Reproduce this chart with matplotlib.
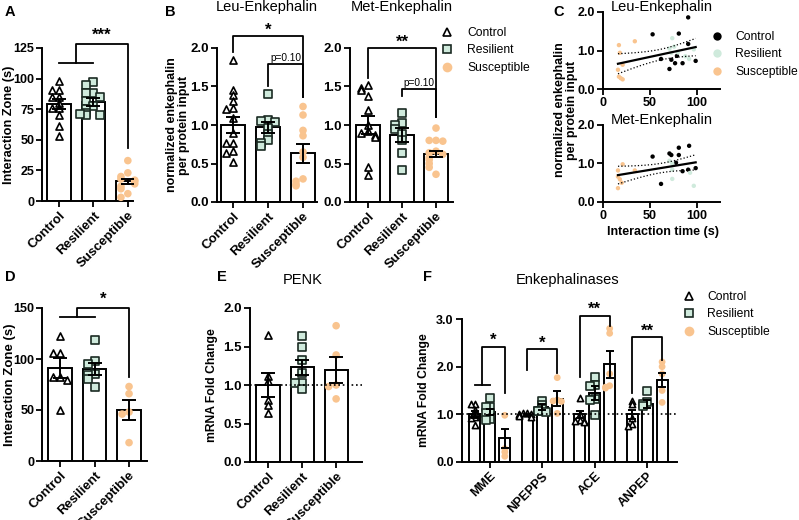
import numpy as np
import matplotlib
matplotlib.use("Agg")
import matplotlib.pyplot as plt
from matplotlib.lines import Line2D

plt.rcParams['font.family'] = ['Liberation Sans', 'DejaVu Sans']
plt.rcParams['font.weight'] = 'bold'
plt.rcParams['axes.labelweight'] = 'bold'

W, H = 799, 520
groups = ['Control', 'Resilient', 'Susceptible']
PEACH = '#f9c48f'
MINT = '#cfeadc'

# --- A: social interaction (s)
a_ctrl = [98, 91, 91, 85, 85, 80, 76, 76, 70, 61, 53]
a_res = [97, 95, 88, 88, 85, 82, 78, 75, 72, 70, 70, 71]
a_sus = [33, 23, 20, 18, 17, 16, 14, 12, 10, 6, 3]
a_mean = [79, 81, 16]
a_sem = [4, 3, 2]

# --- B: Leu / Met enkephalin
leu_ctrl = [1.85, 1.45, 1.39, 1.31, 1.22, 1.21, 1.09, 0.90, 0.77, 0.76, 0.66, 0.64, 0.52]
leu_res = [1.40, 1.06, 1.05, 1.04, 0.96, 0.88, 0.80, 0.77, 0.73]
leu_sus = [1.24, 1.13, 0.93, 0.86, 0.65, 0.58, 0.30, 0.27, 0.23, 0.21]
leu_mean = [1.0, 0.97, 0.63]
leu_sem = [0.10, 0.07, 0.12]
met_ctrl = [1.52, 1.48, 1.45, 1.38, 1.19, 1.00, 0.92, 0.90, 0.87, 0.85, 0.46, 0.35]
met_res = [1.16, 1.02, 1.00, 0.95, 0.88, 0.80, 0.63, 0.42]
met_sus = [0.96, 0.80, 0.80, 0.79, 0.66, 0.64, 0.62, 0.58, 0.55, 0.50, 0.45, 0.36]
met_mean = [1.0, 0.87, 0.62]
met_sem = [0.12, 0.09, 0.04]

# --- C: correlation with interaction time
cl_ctrl_x = [53, 81, 91, 91, 62, 73, 71, 79, 85, 99, 77]
cl_ctrl_y = [1.42, 1.44, 1.86, 1.17, 0.78, 0.76, 0.52, 0.86, 0.67, 0.73, 0.67]
cl_res_x = [74, 73, 76, 88, 97, 80, 71, 92]
cl_res_y = [1.32, 0.94, 1.10, 0.85, 1.03, 0.95, 1.05, 0.78]
cl_sus_x = [17, 34, 18, 21, 16, 17, 21, 19]
cl_sus_y = [1.14, 1.24, 0.94, 0.63, 0.50, 0.32, 0.25, 0.28]
cm_ctrl_x = [53, 71, 73, 81, 92, 81, 78, 85, 91, 99, 62]
cm_ctrl_y = [1.18, 1.26, 1.22, 1.41, 1.46, 1.22, 1.02, 0.80, 0.84, 0.88, 0.47]
cm_res_x = [74, 74, 74, 93, 97, 71]
cm_res_y = [1.00, 0.84, 0.60, 0.76, 0.42, 1.07]
cm_sus_x = [21, 16, 34, 16, 18, 20, 16]
cm_sus_y = [0.98, 0.82, 0.82, 0.66, 0.59, 0.50, 0.36]

# --- D: second cohort interaction (s)
d_ctrl = [123, 106, 106, 82, 82, 79, 50]
d_res = [119, 98, 95, 85, 84, 80, 73]
d_sus = [73, 66, 48, 46, 18]
d_mean = [91, 90, 50]
d_sem = [10, 6, 10]

# --- E: PENK mRNA
e_ctrl = [1.65, 1.12, 1.05, 0.80, 0.74, 0.63]
e_res = [1.64, 1.49, 1.33, 1.15, 1.03, 1.03, 0.95]
e_sus = [1.77, 1.39, 1.00, 0.98, 0.82]
e_mean = [1.0, 1.23, 1.19]
e_sem = [0.15, 0.10, 0.17]

# --- F: enkephalinases mRNA
genes = ['MME', 'NPEPPS', 'ACE', 'ANPEP']
f_ctrl = [[1.21, 1.21, 1.10, 1.03, 0.95, 0.93, 0.77],
          [1.03, 1.02, 1.00, 1.00, 0.98, 0.97, 0.95],
          [1.35, 1.00, 0.88, 0.86, 0.85, 0.83],
          [1.28, 1.22, 0.92, 0.80, 0.76]]
f_res = [[1.35, 1.16, 1.16, 1.03, 1.02, 0.91, 0.89],
         [1.28, 1.20, 1.12, 1.08, 1.07, 1.05],
         [1.78, 1.62, 1.60, 1.33, 1.30, 0.98],
         [1.50, 1.25, 1.22, 1.18]]
f_sus = [[0.98, 0.28, 0.21, 0.12],
         [1.77, 1.30, 1.28, 1.27, 1.02],
         [2.80, 2.70, 1.85, 1.60, 1.57, 1.55],
         [2.10, 2.00, 1.85, 1.50, 1.25]]
f_ctrl_mean = [1.0, 0.98, 1.0, 1.0]
f_ctrl_sem = [0.07, 0.02, 0.08, 0.10]
f_res_mean = [1.05, 1.15, 1.45, 1.22]
f_res_sem = [0.07, 0.06, 0.15, 0.08]
f_sus_mean = [0.5, 1.33, 2.05, 1.72]
f_sus_sem = [0.20, 0.15, 0.28, 0.15]

fig = plt.figure(figsize=(W / 100, H / 100), dpi=100)


def px_axes(l, t, r, b):
    return fig.add_axes([l / W, 1 - b / H, (r - l) / W, (b - t) / H])


def style(ax, fs=9.5):
    for s in ['top', 'right']:
        ax.spines[s].set_visible(False)
    for s in ['left', 'bottom']:
        ax.spines[s].set_linewidth(1.4)
    ax.tick_params(direction='out', length=4, width=1.3, labelsize=fs, pad=2)


def jitter(vals, span, step):
    # spread points with close values sideways, like a column scatter
    vals = np.asarray(vals, float)
    off = np.zeros(len(vals))
    pattern = [0, -1, 1, -2, 2, -3, 3]
    for i in range(len(vals)):
        n = int(np.sum(np.abs(vals[:i] - vals[i]) < span))
        off[i] = pattern[n % len(pattern)] * step
    return off


def scatter_group(ax, x, vals, kind, span, step, size=26):
    xs = x + jitter(vals, span, step)
    if kind == 0:
        ax.scatter(xs, vals, marker='^', s=size, facecolor='white', edgecolor='k', lw=1.2, zorder=3, clip_on=False)
    elif kind == 1:
        ax.scatter(xs, vals, marker='s', s=size + 6, facecolor=MINT, edgecolor='#1a2a22', lw=1.2, zorder=3, clip_on=False)
    else:
        ax.scatter(xs, vals, marker='o', s=size + 4, facecolor=PEACH, edgecolor='none', zorder=3, clip_on=False)


def bars(ax, x, means, sems, width, capw):
    ax.bar(x, means, width=width, facecolor='white', edgecolor='k', lw=1.4, zorder=2)
    ax.errorbar(x, means, yerr=sems, fmt='none', ecolor='k', elinewidth=1.4, capsize=capw, capthick=1.4, zorder=4)


def bracket(ax, x1, x2, y, y1, y2, txt, dy, fs=12, bold=True):
    ax.plot([x1, x1, x2, x2], [y1, y, y, y2], color='k', lw=1.3, clip_on=False, zorder=5)
    ax.text((x1 + x2) / 2, y + dy, txt, ha='center', va='bottom', fontsize=fs,
            fontweight='bold' if bold else 'normal', clip_on=False)


def group_bar_panel(ax, pts, means, sems, span, step):
    x = np.arange(3)
    bars(ax, x, means, sems, 0.68, 5)
    for i, v in enumerate(pts):
        scatter_group(ax, i, v, i, span, step)
    ax.set_xticks(x)
    ax.set_xticklabels(groups, rotation=45, ha='right', rotation_mode='anchor', fontsize=9.5)
    style(ax)


def legend(handles, x, y, pad):
    fig.legend(handles, groups, loc='upper left', bbox_to_anchor=(x / W, 1 - y / H),
               frameon=False, handlelength=1.0, handletextpad=pad, labelspacing=0.45,
               borderpad=0, borderaxespad=0, prop={'size': 8.7, 'weight': 'normal'})


# ---------------- A
axA = px_axes(42, 48, 133, 201)
group_bar_panel(axA, [a_ctrl, a_res, a_sus], a_mean, a_sem, 4, 0.2)
axA.tick_params(axis='y', labelsize=9, pad=1.5)
axA.set_xlim(-0.49, 2.15)
axA.set_ylim(0, 125)
axA.set_yticks([0, 25, 50, 75, 100, 125])
axA.set_ylabel('Interaction Zone (s)', fontsize=9.2)
axA.yaxis.set_label_coords(-0.30, 0.5)
axA.plot([0, 1], [113, 113], color='k', lw=1.3, clip_on=False)
bracket(axA, 0.5, 2, 128, 113, 43, '***', 1)

# ---------------- B
axL = px_axes(217, 48, 317, 202)
group_bar_panel(axL, [leu_ctrl, leu_res, leu_sus], leu_mean, leu_sem, 0.06, 0.2)
axL.set_xlim(-0.46, 2.4)
axL.set_ylim(0, 2.0)
axL.set_yticks([0, 0.5, 1.0, 1.5, 2.0])
axL.set_yticklabels(['0.0', '0.5', '1.0', '1.5', '2.0'])
axL.text(0.5, 1.265, 'Leu-Enkephalin', transform=axL.transAxes, ha='center', va='center',
         fontsize=10.5, fontweight='normal')
axL.set_ylabel('normalized enkephalin\nper protein input', fontsize=9, linespacing=1.05)
axL.yaxis.set_label_coords(-0.27, 0.5)
bracket(axL, 0, 2, 2.15, 1.95, 1.36, '*', -0.02)
bracket(axL, 1, 2, 1.79, 1.51, 1.36, 'p=0.10', 0.01, fs=7.3, bold=False)

axM = px_axes(350, 48, 453, 202)
group_bar_panel(axM, [met_ctrl, met_res, met_sus], met_mean, met_sem, 0.06, 0.2)
axM.set_xlim(-0.53, 2.5)
axM.set_ylim(0, 2.0)
axM.set_yticks([0, 0.5, 1.0, 1.5, 2.0])
axM.set_yticklabels(['0.0', '0.5', '1.0', '1.5', '2.0'])
axM.text(0.5, 1.265, 'Met-Enkephalin', transform=axM.transAxes, ha='center', va='center',
         fontsize=10.5, fontweight='normal')
bracket(axM, 0, 2, 2.0, 1.61, 1.11, '**', -0.02)
bracket(axM, 1, 2, 1.47, 1.38, 1.11, 'p=0.10', 0.01, fs=7.3, bold=False)

leg_handles = [Line2D([], [], ls='none', marker='^', mfc='white', mec='k', mew=1.2, ms=6),
               Line2D([], [], ls='none', marker='s', mfc=MINT, mec='#1a2a22', mew=1.2, ms=6),
               Line2D([], [], ls='none', marker='o', mfc=PEACH, mec='none', ms=7)]
legend(leg_handles, 441, 27, 1.15)


# ---------------- C
def fit_panel(ax, xs, ys, title):
    for x, y, c in zip(xs, ys, ['k', MINT, PEACH]):
        ax.scatter(x, y, s=10, color=c, zorder=3, edgecolor='none')
    X = np.concatenate([np.asarray(v, float) for v in xs])
    Y = np.concatenate([np.asarray(v, float) for v in ys])
    b, a = np.polyfit(X, Y, 1)
    n = len(X)
    res = Y - (a + b * X)
    s = np.sqrt(np.sum(res ** 2) / (n - 2))
    sxx = np.sum((X - X.mean()) ** 2)
    gx = np.linspace(X.min(), X.max(), 100)
    gy = a + b * gx
    ci = 2.05 * s * np.sqrt(1 / n + (gx - X.mean()) ** 2 / sxx)
    ax.plot(gx, gy, color='k', lw=1.6, zorder=4)
    ax.plot(gx, gy + ci, color='k', lw=0.9, ls=':', zorder=4)
    ax.plot(gx, gy - ci, color='k', lw=0.9, ls=':', zorder=4)
    ax.set_xlim(0, 125)
    ax.set_ylim(0, 2.0)
    ax.set_xticks([0, 50, 100])
    ax.set_yticks([0, 1.0, 2.0])
    ax.set_yticklabels(['0.0', '1.0', '2.0'])
    style(ax, 9)
    ax.text(0.5, 1.07, title, transform=ax.transAxes, ha='center', va='center',
            fontsize=10.5, fontweight='normal')


axCL = px_axes(603, 12, 720, 89)
fit_panel(axCL, [cl_ctrl_x, cl_res_x, cl_sus_x], [cl_ctrl_y, cl_res_y, cl_sus_y], 'Leu-Enkephalin')
axCM = px_axes(603, 125, 720, 202)
fit_panel(axCM, [cm_ctrl_x, cm_res_x, cm_sus_x], [cm_ctrl_y, cm_res_y, cm_sus_y], 'Met-Enkephalin')
fig.text(566 / W, 1 - 110 / H, 'normalized enkephalin\nper protein input', rotation=90,
         ha='center', va='center', fontsize=9, linespacing=1.05)
fig.text(663 / W, 1 - 232 / H, 'Interaction time (s)', ha='center', va='center', fontsize=9)
c_handles = [Line2D([], [], ls='none', marker='o', mfc=c, mec='none', ms=6) for c in ['k', MINT, PEACH]]
legend(c_handles, 711, 31, 1.0)

# ---------------- D
axD = px_axes(42, 308, 147, 461)
group_bar_panel(axD, [d_ctrl, d_res, d_sus], d_mean, d_sem, 5, 0.2)
axD.tick_params(axis='y', labelsize=9, pad=1.5)
axD.set_xlim(-0.52, 2.52)
axD.set_ylim(0, 150)
axD.set_yticks([0, 50, 100, 150])
axD.set_ylabel('Interaction Zone (s)', fontsize=9.5)
axD.yaxis.set_label_coords(-0.252, 0.5)
axD.plot([0, 1], [141, 141], color='k', lw=1.3, clip_on=False)
bracket(axD, 0.5, 2, 150, 141, 82, '*', 1)

# ---------------- E
axE = px_axes(250, 308, 362, 462)
group_bar_panel(axE, [e_ctrl, e_res, e_sus], e_mean, e_sem, 0.06, 0.22)
axE.set_xlim(-0.53, 2.76)
axE.set_ylim(0, 2.0)
axE.set_yticks([0, 0.5, 1.0, 1.5, 2.0])
axE.set_yticklabels(['0.0', '0.5', '1.0', '1.5', '2.0'])
axE.axhline(1.0, color='k', ls=':', lw=1.2, zorder=5)
axE.set_ylabel('mRNA Fold Change', fontsize=8.7)
axE.yaxis.set_label_coords(-0.29, 0.5)
axE.text(0.47, 1.18, 'PENK', transform=axE.transAxes, ha='center', va='center',
         fontsize=10.5, fontweight='normal')

# ---------------- F
axF = px_axes(462, 319, 677, 462)
gx = np.arange(len(genes))
off = 0.286
bars(axF, gx - off, f_ctrl_mean, f_ctrl_sem, 0.21, 3)
bars(axF, gx, f_res_mean, f_res_sem, 0.21, 3)
bars(axF, gx + off, f_sus_mean, f_sus_sem, 0.21, 3)
for g in range(len(genes)):
    scatter_group(axF, g - off, f_ctrl[g], 0, 0.05, 0.08, size=20)
    scatter_group(axF, g, f_res[g], 1, 0.05, 0.08, size=20)
    scatter_group(axF, g + off, f_sus[g], 2, 0.05, 0.08, size=20)
axF.axhline(1.0, color='k', ls=':', lw=1.2, zorder=5)
axF.set_xlim(-0.53, 3.57)
axF.set_ylim(0, 3.0)
axF.set_yticks([0, 1.0, 2.0, 3.0])
axF.set_yticklabels(['0.0', '1.0', '2.0', '3.0'])
axF.set_xticks(gx)
axF.set_xticklabels(genes, rotation=45, ha='right', rotation_mode='anchor', fontsize=9)
style(axF, 9)
axF.set_ylabel('mRNA Fold Change', fontsize=8.7)
axF.yaxis.set_label_coords(-0.15, 0.5)
axF.text(0.49, 1.27, 'Enkephalinases', transform=axF.transAxes, ha='center', va='center',
         fontsize=10.5, fontweight='normal')
axF.plot([-off, 0], [1.62, 1.62], color='k', lw=1.3)
bracket(axF, -off / 2, off, 2.42, 1.62, 1.45, '*', -0.03)
bracket(axF, 1 - off, 1 + off, 2.37, 1.93, 1.86, '*', -0.03)
bracket(axF, 2 - off, 2 + off, 3.07, 1.79, 2.85, '**', -0.03)
bracket(axF, 3 - off, 3 + off, 2.62, 1.44, 2.14, '**', -0.03)
legend(leg_handles, 683, 291, 1.0)

# panel letters
for lab, x, y in [('A', 5, 12), ('B', 165, 12), ('C', 553, 12),
                  ('D', 5, 277), ('E', 217, 277), ('F', 423, 277)]:
    fig.text(x / W, 1 - y / H, lab, fontsize=10.5, fontweight='bold', va='center', ha='left')

fig.savefig('out.png', dpi=100)
